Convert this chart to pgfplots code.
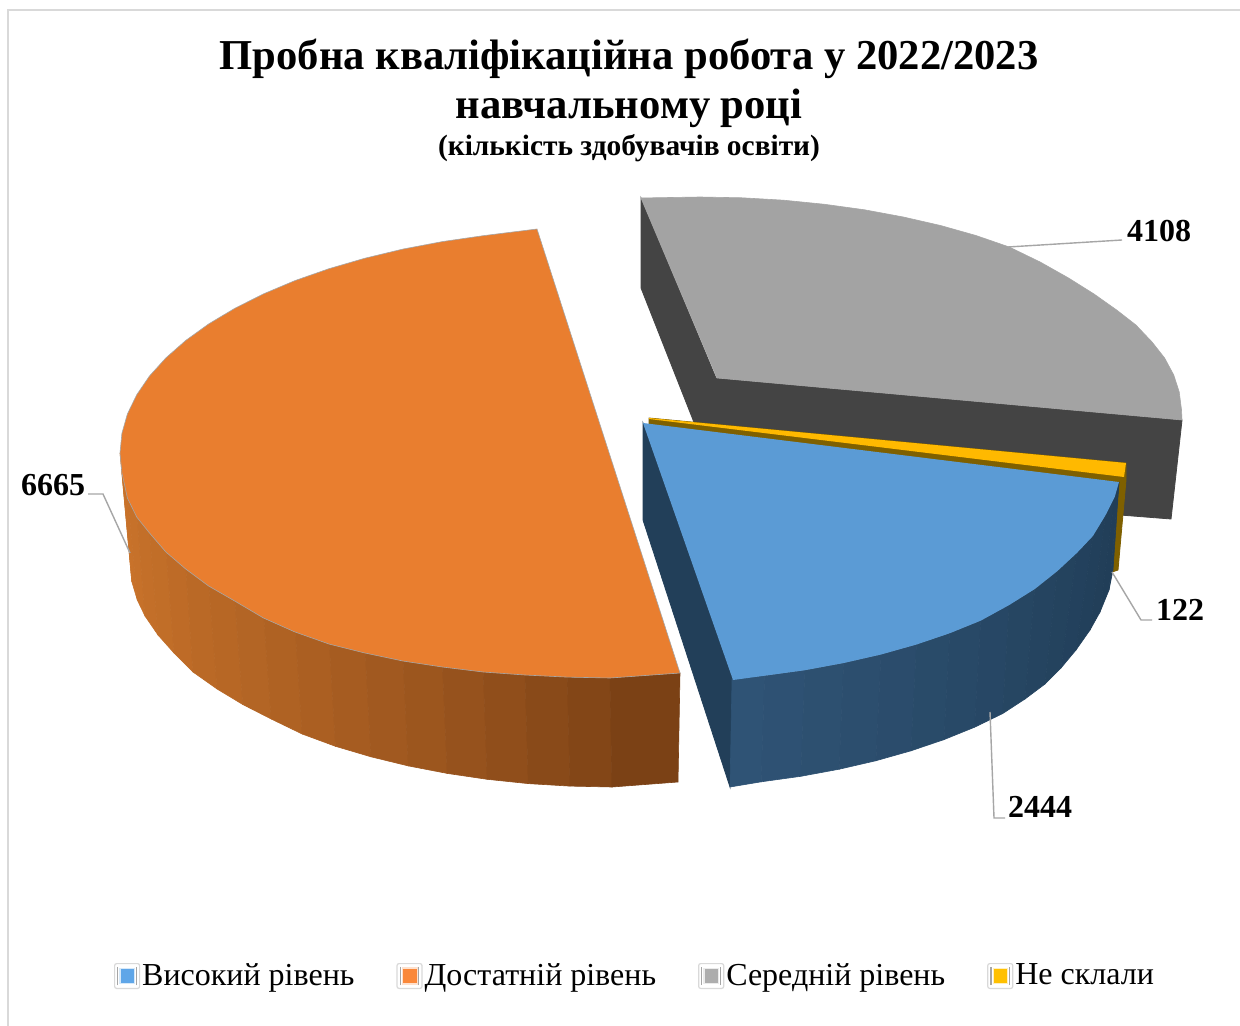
\documentclass[border=0pt]{standalone}
\usepackage{fontspec}
\setmainfont{Liberation Serif}
\usepackage{pgfplots}
\pgfplotsset{compat=1.18}

\definecolor{orangetop}{HTML}{E97E2F}
\definecolor{orangeL}{HTML}{CB742B}
\definecolor{orangeR}{HTML}{773E14}
\definecolor{bluetop}{HTML}{5B9BD5}
\definecolor{blueL}{HTML}{2F5375}
\definecolor{blueR}{HTML}{213E58}
\definecolor{bluedark}{HTML}{223F59}
\definecolor{graytop}{HTML}{A3A3A3}
\definecolor{graydark}{HTML}{444444}
\definecolor{yellowtop}{HTML}{FFB900}
\definecolor{yellowdark}{HTML}{7F6000}
\definecolor{leader}{HTML}{A6A6A6}
\definecolor{frame}{HTML}{D9D9D9}

% one vertical band of a curved side wall
\newcommand{\ostrip}[2]{\addplot[fill=orangeL!#1!orangeR,draw=orangeL!#1!orangeR,line width=0.3pt,forget plot] coordinates {#2} -- cycle;}
\newcommand{\bstrip}[2]{\addplot[fill=blueL!#1!blueR,draw=blueL!#1!blueR,line width=0.3pt,forget plot] coordinates {#2} -- cycle;}

% legend marker: grey frame, pale inside, coloured square
\newcommand{\legicon}[2]{%
  \draw[frame,line width=0.6pt,fill=white,rounded corners=1pt] (0pt,-6.2pt) rectangle (12.5pt,6.2pt);
  \draw[gray!70,line width=0.6pt] (1.6pt,-4.6pt) -- (1.6pt,4.6pt) (10.9pt,-4.6pt) -- (10.9pt,4.6pt);
  \fill[#1!25!white] (2.4pt,-4.2pt) rectangle (10.1pt,4.2pt);
  \fill[#2] (3pt,-3.3pt) rectangle (9.5pt,3.3pt);}

\definecolor{iconblue}{HTML}{5FA6E8}
\definecolor{iconorange}{HTML}{FA883A}
\definecolor{icongray}{HTML}{ADADAD}
\definecolor{iconyellow}{HTML}{FFC000}

\begin{document}
\begin{tikzpicture}
\begin{axis}[
    scale only axis,
    width=620pt, height=513pt,
    xmin=0, xmax=1240, ymin=0, ymax=1026,
    y dir=reverse,
    hide axis,
    legend columns=4,
    legend style={draw=none, fill=none, font=\fontsize{16}{18}\selectfont,
        at={(axis cs:635,976)}, anchor=center, inner sep=0pt,
        /tikz/every even column/.append style={column sep=20pt},
        nodes={inner sep=1pt}},
    legend cell align=left,
]

% page background keeps the picture at full size
\addplot[fill=white,draw=none,forget plot] coordinates {(0,0)(1240,0)(1240,1026)(0,1026)} -- cycle;

% frame
\addplot[frame,line width=1pt,forget plot] coordinates {(8,1026)(8,10)(1240,10)};

% grey sector: walls then top
\addplot[fill=graydark,draw=graydark,forget plot] coordinates {
  (641,198)(641,288)(697,430)(1120,515)(1171,519)(1182,420)(716,378)} -- cycle;
\addplot[fill=graytop,draw=leader,line width=0.3pt,forget plot] coordinates {
  (641,198)(700,197)(741.9,197.8)(783.5,200.2)(824.5,204.3)(864.5,209.8)(903.3,217)(940.5,225.5)(975.9,235.5)(1009.2,247)(1040.1,262)(1068.5,278)(1094,294)(1116.6,310)(1135.9,325)(1152,342)(1164.6,358)(1173.7,375)(1179.2,392)(1181.5,410)(1182,420)(717,378)} -- cycle;

% orange wall
\ostrip{100}{(120,453)(121.9,472.6)(131.8,581.6)(130,562)}
\ostrip{97}{(121.9,472.6)(127.4,492)(137.3,600)(131.8,581.6)}
\ostrip{94}{(127.4,492)(136.7,511.2)(145,616)(137.3,600)}
\ostrip{91}{(136.7,511.2)(149.5,530)(158,635)(145,616)}
\ostrip{88}{(149.5,530)(165.9,548.1)(174,653)(158,635)}
\ostrip{84}{(165.9,548.1)(185.7,565.5)(193,672)(174,653)}
\ostrip{80}{(185.7,565.5)(208.6,582)(217.1,689)(193,672)}
\ostrip{76}{(208.6,582)(234.7,597.6)(242.8,704.5)(217.1,689)}
\ostrip{72}{(234.7,597.6)(263.5,612.1)(271.2,719)(242.8,704.5)}
\ostrip{67}{(263.5,612.1)(295,625.4)(302.2,734)(271.2,719)}
\ostrip{62}{(295,625.4)(329,637.3)(335.5,746.3)(302.2,734)}
\ostrip{56}{(329,637.3)(365,647.8)(371,756.8)(335.5,746.3)}
\ostrip{50}{(365,647.8)(402.9,656.9)(408.3,765.9)(371,756.8)}
\ostrip{44}{(402.9,656.9)(442.4,664.4)(447.2,773.4)(408.3,765.9)}
\ostrip{37}{(442.4,664.4)(483.2,670.3)(487.2,779.3)(447.2,773.4)}
\ostrip{30}{(483.2,670.3)(525,674.6)(528.3,783.6)(487.2,779.3)}
\ostrip{22}{(525,674.6)(567.3,677.1)(570,786.1)(528.3,783.6)}
\ostrip{14}{(567.3,677.1)(610,678)(612,787)(570,786.1)}
\ostrip{5}{(610,678)(680,673)(678,782)(612,787)}

% yellow wall and base
\addplot[fill=yellowdark,draw=yellowdark,forget plot] coordinates {
  (649,418)(1126,463)(1126,480)(1118,570)(1112,572)(1119,482)(649,425)} -- cycle;
\addplot[fill=yellowtop,draw=none,forget plot] coordinates {
  (649,418)(1126,463)(1124,477)(649,419)} -- cycle;

% blue wall
\addplot[fill=bluedark,draw=bluedark,forget plot] coordinates {
  (643,423)(643,520)(730,787)(733,680)} -- cycle;
\bstrip{100}{(732,679)(764.7,675.7)(761.2,781.8)(730,787)}
\bstrip{92}{(764.7,675.7)(804.9,670.2)(800.8,776.3)(761.2,781.8)}
\bstrip{84}{(804.9,670.2)(843.7,663)(839.2,769.2)(800.8,776.3)}
\bstrip{76}{(843.7,663)(881,654.5)(876,760.7)(839.2,769.2)}
\bstrip{68}{(881,654.5)(916.5,644.5)(911,750.8)(876,760.7)}
\bstrip{60}{(916.5,644.5)(949.8,633.2)(944,739.6)(911,750.8)}
\bstrip{52}{(949.8,633.2)(980.8,620.6)(974.6,727.2)(944,739.6)}
\bstrip{44}{(980.8,620.6)(1009.2,605)(1002.6,713.6)(974.6,727.2)}
\bstrip{36}{(1009.2,605)(1034.8,589)(1025,699)(1002.6,713.6)}
\bstrip{28}{(1034.8,589)(1057.4,571)(1045,684)(1025,699)}
\bstrip{22}{(1057.4,571)(1076.8,553)(1061,668)(1045,684)}
\bstrip{16}{(1076.8,553)(1092.9,536)(1076,650)(1061,668)}
\bstrip{10}{(1092.9,536)(1105.6,515)(1090,630)(1076,650)}
\bstrip{5}{(1105.6,515)(1114.7,497)(1100,612)(1090,630)}
\bstrip{0}{(1114.7,497)(1119,482)(1109,590)(1100,612)}
\bstrip{0}{(1119,482)(1119,482)(1113,570)(1109,590)}

% top faces, in legend order
\addplot[fill=bluetop,draw=none,legend image code/.code={\legicon{iconblue}{iconblue}}] coordinates {
  (643,423)(1119,482)(1114.7,497)(1105.6,515)(1092.9,536)(1076.8,553)(1057.4,571)(1034.8,589)(1009.2,605)(980.8,620.6)(949.8,633.2)(916.5,644.5)(881,654.5)(843.7,663)(804.9,670.2)(764.7,675.7)(733,680)} -- cycle;
\addlegendentry{Високий рівень}
\addplot[fill=orangetop,draw=leader,line width=0.3pt,legend image code/.code={\legicon{iconorange}{iconorange}}] coordinates {
  (537,229)(483.2,235.7)(442.4,241.6)(402.9,249.1)(365,258.2)(329,268.7)(295,280.6)(263.5,293.9)(234.7,308.4)(208.6,324)(185.7,340.5)(165.9,357.9)(149.5,376)(136.7,394.8)(127.4,414)(121.9,433.4)(120,453)(121.9,472.6)(127.4,498)(136.7,517)(149.5,533)(165.9,552)(185.7,569)(208.6,586)(234.7,601)(263.5,618)(295,632)(329,644)(365,653)(402.9,661)(442.4,667)(483.2,672)(525,675)(567.3,677.1)(610,678)(680,673)} -- cycle;
\addlegendentry{Достатній рівень}
% grey and yellow are already drawn; these empty plots carry their legend entries
\addplot[draw=none,legend image code/.code={\legicon{icongray}{icongray}}] coordinates {(641,198)};
\addlegendentry{Середній рівень}
\addplot[draw=none,legend image code/.code={\legicon{iconyellow}{iconyellow}}] coordinates {(1126,463)};
\addlegendentry{Не склали}

% leader lines
\addplot[leader,line width=0.7pt,forget plot] coordinates {(1008,247)(1122,240)};
\addplot[leader,line width=0.7pt,forget plot] coordinates {(130,553)(103,494)(88,494)};
\addplot[leader,line width=0.7pt,forget plot] coordinates {(1112,572)(1141,620)(1152,620)};
\addplot[leader,line width=0.7pt,forget plot] coordinates {(990,712)(994,818)(1005,818)};

% data labels
\node[font=\fontsize{16}{18}\selectfont\bfseries,anchor=center] at (axis cs:1159,231) {4108};
\node[font=\fontsize{16}{18}\selectfont\bfseries,anchor=center] at (axis cs:53,485) {6665};
\node[font=\fontsize{16}{18}\selectfont\bfseries,anchor=center] at (axis cs:1180,610) {122};
\node[font=\fontsize{16}{18}\selectfont\bfseries,anchor=center] at (axis cs:1040,807) {2444};

% title
\node[font=\fontsize{21.3}{24.5}\selectfont\bfseries,align=center,anchor=center] at (axis cs:629,83)
  {Пробна кваліфікаційна робота у 2022/2023\\навчальному році};
\node[font=\fontsize{14.7}{16}\selectfont\bfseries,anchor=center] at (axis cs:629,148)
  {(кількість здобувачів освіти)};

\end{axis}
\end{tikzpicture}
\end{document}
